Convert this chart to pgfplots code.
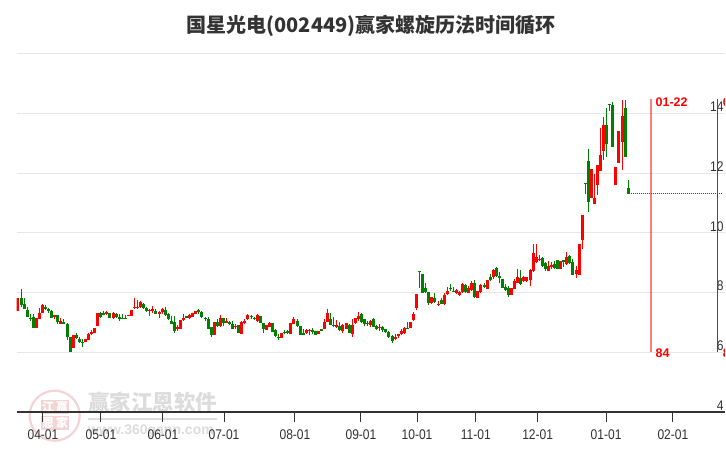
\documentclass[border=0pt]{standalone}
\usepackage{fontspec}
\setmainfont{Liberation Sans}
\newfontfamily\cjk{Noto Sans CJK SC}
\newfontfamily\tickfont{Liberation Sans}[FakeStretch=0.86]
\usepackage{pgfplots}
\usepackage{pgfplotstable}
\pgfplotsset{compat=1.18}
\definecolor{upred}{HTML}{FF0000}
\definecolor{downgreen}{HTML}{008000}
\definecolor{flatgreen}{HTML}{1A661A}
\definecolor{gridgray}{HTML}{E6E6E6}
\definecolor{axisdark}{HTML}{333333}
\definecolor{stamp}{HTML}{F3D3D3}
\definecolor{wmgray}{HTML}{DCDCDC}

% trading day, body bottom, body top, wick low, wick high
\pgfplotstableread{
i bot top lo hi
0 7.39 7.81 7.39 7.81
6 6.82 7.16 6.82 7.16
7 7.13 7.33 7.11 7.50
8 7.33 7.58 7.31 7.61
12 7.17 7.26 7.11 7.26
14 6.96 7.04 6.94 7.16
18 6.15 6.59 6.15 6.59
22 6.36 6.45 6.35 6.46
23 6.42 6.63 6.41 6.64
24 6.60 6.68 6.57 6.74
25 6.66 6.83 6.66 6.83
26 6.88 7.31 6.88 7.31
29 7.30 7.35 7.26 7.40
31 7.15 7.32 7.13 7.35
36 7.22 7.25 7.22 7.25
37 7.22 7.41 7.22 7.41
38 7.49 7.53 7.46 7.83
39 7.49 7.52 7.44 7.75
40 7.51 7.69 7.49 7.72
43 7.40 7.43 7.22 7.44
44 7.42 7.44 7.33 7.55
46 7.27 7.35 7.14 7.40
47 7.35 7.44 7.27 7.49
52 6.79 6.86 6.73 6.91
53 6.79 7.08 6.79 7.08
54 7.08 7.16 7.05 7.27
56 7.15 7.24 7.11 7.27
57 7.18 7.31 7.18 7.31
58 7.30 7.40 7.30 7.40
64 6.58 7.03 6.58 7.03
66 6.88 7.14 6.86 7.25
68 7.00 7.05 6.97 7.14
71 6.86 6.88 6.77 6.94
73 6.61 7.02 6.60 7.05
74 6.99 7.04 6.96 7.11
75 7.11 7.24 7.08 7.27
78 7.05 7.25 7.03 7.27
81 6.75 6.91 6.75 6.91
82 6.86 6.97 6.84 7.02
86 6.49 6.66 6.49 6.66
89 6.60 6.97 6.60 6.97
90 6.96 7.11 6.94 7.17
94 6.64 6.75 6.61 6.79
95 6.73 6.75 6.57 6.77
98 6.60 6.72 6.60 6.72
100 6.79 7.03 6.77 7.11
101 7.02 7.31 7.00 7.44
104 6.86 6.91 6.82 7.07
106 6.72 6.91 6.66 6.94
107 6.79 6.97 6.79 6.97
109 6.61 6.91 6.50 7.11
110 6.97 7.14 6.96 7.16
111 7.13 7.22 7.04 7.35
115 6.91 7.05 6.86 7.08
118 6.83 6.86 6.73 6.94
123 6.46 6.51 6.41 6.60
124 6.55 6.60 6.49 6.60
125 6.60 6.70 6.57 6.77
126 6.64 6.83 6.61 6.86
128 6.82 7.00 6.82 7.00
129 7.07 7.27 7.05 7.36
130 7.47 7.94 7.42 7.94
135 7.66 7.87 7.61 7.87
137 7.59 7.63 7.55 7.72
139 7.61 7.91 7.60 8.00
140 7.94 8.04 7.93 8.20
143 7.98 8.08 7.96 8.11
144 7.92 8.01 7.89 8.06
145 8.02 8.28 8.00 8.31
147 7.98 8.17 7.98 8.23
148 8.09 8.31 8.06 8.40
150 7.81 8.06 7.81 8.06
151 8.02 8.25 8.00 8.28
153 8.12 8.42 8.12 8.42
155 8.54 8.77 8.45 8.79
161 7.92 8.15 7.92 8.15
162 8.12 8.38 8.11 8.45
163 8.34 8.54 8.32 8.79
165 8.38 8.52 8.36 8.56
166 8.38 8.51 8.36 8.54
167 8.43 8.76 8.23 8.79
168 8.73 9.33 8.68 9.64
169 9.02 9.20 9.00 9.64
170 9.10 9.13 9.06 9.27
173 8.73 8.90 8.71 9.07
174 8.87 8.93 8.81 9.04
177 8.79 9.07 8.79 9.07
179 8.96 9.20 8.94 9.36
182 8.62 8.75 8.49 8.90
183 8.60 9.63 8.60 9.63
184 9.76 10.59 9.48 10.59
187 11.18 12.16 11.18 12.16
188 10.98 11.18 10.96 11.99
189 11.60 12.29 11.26 12.29
190 12.07 12.63 12.07 13.52
191 12.74 13.63 12.44 13.89
195 11.60 12.22 11.60 12.22
196 12.34 13.42 12.34 13.42
197 13.05 13.92 12.10 14.45
}\redbars

\pgfplotstableread{
i bot top lo hi
1 7.58 7.83 7.53 8.11
2 7.44 7.63 7.44 7.83
3 7.18 7.41 7.18 7.53
4 7.11 7.16 7.05 7.27
5 6.82 7.18 6.82 7.27
9 7.46 7.53 7.42 7.58
10 7.39 7.44 7.33 7.47
11 7.15 7.37 7.14 7.41
13 7.00 7.26 6.94 7.26
15 6.96 7.03 6.94 7.11
16 6.51 6.94 6.41 7.00
17 6.02 6.50 6.01 6.50
19 6.48 6.59 6.44 6.66
20 6.35 6.46 6.30 6.51
21 6.31 6.36 6.18 6.44
27 7.20 7.31 7.14 7.35
28 7.28 7.31 7.27 7.40
30 7.15 7.32 7.15 7.32
32 7.18 7.30 7.15 7.33
33 7.15 7.18 7.05 7.27
34 7.14 7.16 7.13 7.30
35 7.13 7.15 7.11 7.24
41 7.47 7.63 7.44 7.66
42 7.39 7.49 7.35 7.53
45 7.30 7.40 7.27 7.44
48 7.25 7.43 7.22 7.53
49 7.11 7.27 7.08 7.33
50 6.96 7.05 6.94 7.21
51 6.70 7.00 6.66 7.22
55 7.16 7.22 7.16 7.22
59 7.36 7.41 7.30 7.46
60 7.18 7.35 7.16 7.37
61 7.14 7.16 7.05 7.20
62 6.79 7.11 6.77 7.18
63 6.57 6.85 6.51 6.85
65 6.88 7.03 6.86 7.11
67 6.97 7.14 6.88 7.16
69 6.95 7.02 6.91 7.05
70 6.79 6.96 6.77 7.04
72 6.65 6.91 6.65 6.91
76 7.18 7.23 7.13 7.25
77 7.13 7.16 7.07 7.20
79 6.97 7.21 6.97 7.21
80 6.77 6.97 6.64 6.97
83 6.68 6.97 6.68 6.97
84 6.56 6.75 6.53 6.77
85 6.49 6.51 6.40 6.60
87 6.66 6.69 6.60 6.74
88 6.68 6.70 6.60 6.74
91 6.88 7.06 6.86 7.11
92 6.58 6.88 6.58 6.88
93 6.60 6.66 6.58 6.79
96 6.68 6.75 6.60 6.83
97 6.58 6.73 6.58 6.73
99 6.75 6.77 6.70 6.79
102 6.92 7.13 6.91 7.33
103 6.88 6.93 6.84 7.17
105 6.75 6.88 6.73 7.00
108 6.64 6.91 6.64 6.94
112 7.02 7.27 7.00 7.33
113 6.96 7.11 6.88 7.13
114 6.94 7.00 6.88 7.05
116 6.86 7.12 6.84 7.14
117 6.79 6.88 6.75 6.91
119 6.75 6.84 6.68 6.88
120 6.68 6.77 6.66 6.79
121 6.51 6.68 6.49 6.72
122 6.38 6.55 6.30 6.57
127 6.82 6.83 6.79 7.00
131 8.70 8.73 8.15 8.73
132 8.00 8.61 7.98 8.61
133 8.02 8.17 8.00 8.34
134 7.64 8.03 7.58 8.03
136 7.69 7.83 7.66 8.00
138 7.61 7.74 7.61 7.83
141 8.11 8.17 8.04 8.28
142 8.02 8.07 8.02 8.20
146 8.02 8.25 8.00 8.28
149 7.85 8.31 7.83 8.42
152 8.18 8.25 8.14 8.34
154 8.44 8.52 8.40 8.64
156 8.56 8.82 8.51 8.87
157 8.50 8.55 8.34 8.68
158 8.15 8.45 8.14 8.47
159 8.09 8.18 8.07 8.28
160 7.92 8.17 7.84 8.23
164 8.29 8.49 8.27 8.76
171 8.89 9.16 8.87 9.21
172 8.80 9.00 8.72 9.02
175 8.82 8.96 8.79 9.07
176 8.81 9.08 8.81 9.08
178 9.05 9.08 8.85 9.08
180 9.00 9.23 8.97 9.27
181 8.60 9.02 8.59 9.13
185 11.65 11.68 11.32 11.68
186 11.03 12.42 10.70 12.83
192 12.99 13.63 12.55 14.20
193 14.31 14.34 14.08 14.34
194 12.87 14.30 12.87 14.39
198 12.54 14.20 12.54 14.47
199 11.30 11.51 11.30 11.79
}\greenbars

\begin{document}
\begin{tikzpicture}
% page frame, fixed so the labels cut by the right edge do not widen it
\path[use as bounding box] (-18pt,-38pt) rectangle (708pt,412pt);
% watermark and title, in pixels of the 726x450 picture
\begin{scope}[shift={(-18pt,412pt)},x=1pt,y=-1pt]
\draw[stamp,line width=2.2pt] (54.7,415.7) circle (25);
\foreach \cx/\cy/\ch in {48/407/江,62/407/赢,48/423/恩,62/423/家}{
  \node[fill=stamp,text=white,inner sep=0pt,minimum size=14pt,font={\cjk\bfseries\fontsize{12}{12}\selectfont}] at (\cx,\cy) {\ch};
}
\node[text=wmgray,inner sep=0pt,font={\cjk\bfseries\fontsize{21.5}{22}\selectfont}] at (152.5,402) {赢家江恩软件};
\fill[wmgray] (88,418.5) rectangle (217,420.5);
\node[text=wmgray,inner sep=0pt,font={\bfseries\fontsize{14}{14}\selectfont}] at (151,431) {www.360gann.com};
\node[text=axisdark,inner sep=0pt,font={\cjk\bfseries\fontsize{20}{20}\selectfont}] at (371,26) {国星光电(002449)赢家螺旋历法时间循环};
\end{scope}

\begin{axis}[
    at={(0pt,0pt)},
    anchor=origin,
    scale only axis,
    width=708pt,
    height=358pt,
    xmin=-0.42, xmax=230.5,
    ymin=4, ymax=16,
    axis x line*=bottom,
    axis y line*=right,
    y axis line style={draw=none},
    x axis line style={draw=axisdark,line width=1.2pt},
    xtick={8.15,27.07,47.29,67.19,90.34,111.87,130.14,149.3,169.5,191.8,213.6},
    xticklabels={04-01,05-01,06-01,07-01,08-01,09-01,10-01,11-01,12-01,01-01,02-01},
    ytick={4,6,8,10,12,14,16},
    yticklabels={4,6,8,10,12,14,},
    tick align=outside,
    major tick length=10pt,
    x tick style={draw=axisdark,line width=1pt},
    y tick style={draw=none},
    ymajorgrids,
    grid style={gridgray,line width=1pt},
    every tick label/.append style={font=\tickfont\fontsize{14}{16}\selectfont,text=axisdark},
    xticklabel style={yshift=-4pt},
    yticklabel style={anchor=south east,inner sep=0pt,xshift=-11pt,yshift=1.5pt},
]
% wicks
\addplot[draw=none,forget plot,error bars/.cd,y dir=both,y explicit,error mark=none,
  error bar style={line width=1pt,upred}]
  table[x=i,y expr=(\thisrow{lo}+\thisrow{hi})/2,y error expr=(\thisrow{hi}-\thisrow{lo})/2] {\redbars};
\addplot[draw=none,forget plot,error bars/.cd,y dir=both,y explicit,error mark=none,
  error bar style={line width=1pt,downgreen}]
  table[x=i,y expr=(\thisrow{lo}+\thisrow{hi})/2,y error expr=(\thisrow{hi}-\thisrow{lo})/2] {\greenbars};
% bodies
\addplot[draw=none,forget plot,error bars/.cd,y dir=both,y explicit,error mark=none,
  error bar style={line width=3pt,upred}]
  table[x=i,y expr=(\thisrow{bot}+\thisrow{top})/2,y error expr=(\thisrow{top}-\thisrow{bot})/2] {\redbars};
\addplot[draw=none,forget plot,error bars/.cd,y dir=both,y explicit,error mark=none,
  error bar style={line width=3pt,downgreen}]
  table[x=i,y expr=(\thisrow{bot}+\thisrow{top})/2,y error expr=(\thisrow{top}-\thisrow{bot})/2] {\greenbars};
% flat projection after the last day
\addplot[flatgreen,line width=1pt,dash pattern=on 1.5pt off 0.5pt] coordinates {(199.8,11.31) (229.5,11.31)};
% time cycle markers
\addplot[upred,opacity=0.5,line width=2pt] coordinates {(206.3,14.49) (206.3,6.02)};
\addplot[upred,line width=1pt] coordinates {(228.3,14.49) (228.3,6.02)};
\node[anchor=west,inner sep=0pt,text=upred,font=\bfseries\fontsize{12.5}{14}\selectfont] at (axis cs:207.9,14.39) {01-22};
\node[anchor=west,inner sep=0pt,text=upred,font=\bfseries\fontsize{12.5}{14}\selectfont] at (axis cs:207.9,5.98) {84};
\node[anchor=west,inner sep=0pt,text=upred,font=\bfseries\fontsize{12}{14}\selectfont] at (axis cs:229.8,14.39) {0};
\node[anchor=west,inner sep=0pt,text=upred,font=\bfseries\fontsize{12.5}{14}\selectfont] at (axis cs:229.8,5.98) {8};
\end{axis}
\end{tikzpicture}
\end{document}
